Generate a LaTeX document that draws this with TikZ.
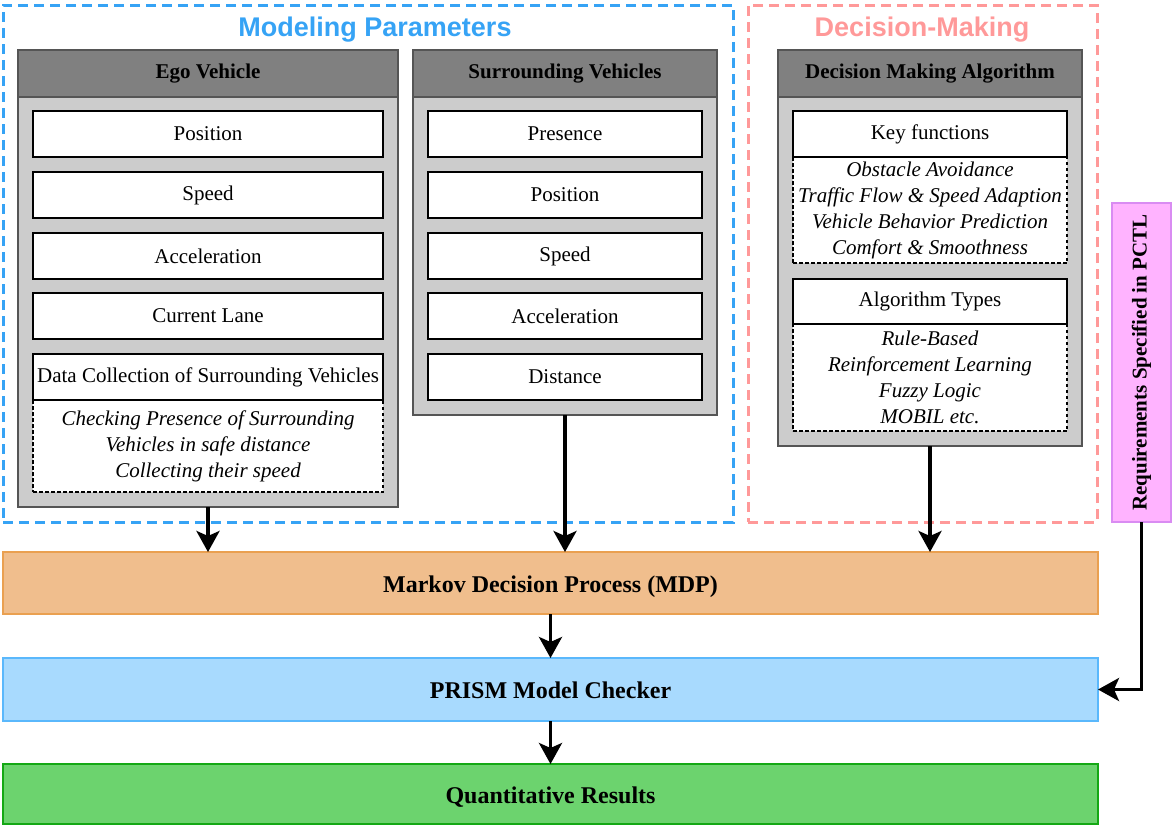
\documentclass[tikz,border=0pt]{standalone}
\usepackage{fontspec}
\setmainfont{Liberation Serif}
\setsansfont{Liberation Sans}
\usetikzlibrary{arrows.meta}
\definecolor{hdr}{HTML}{808080}
\definecolor{bodyg}{HTML}{CCCCCC}
\definecolor{edgeg}{HTML}{555555}
\definecolor{mpblue}{HTML}{36A3F5}
\definecolor{dmpink}{HTML}{FF9999}
\definecolor{mdpfill}{HTML}{F0BE8D}
\definecolor{mdpedge}{HTML}{EAA050}
\definecolor{prfill}{HTML}{A8DAFE}
\definecolor{predge}{HTML}{5AB8FC}
\definecolor{qfill}{HTML}{6CD36E}
\definecolor{qedge}{HTML}{14A814}
\definecolor{reqfill}{HTML}{FFB3FF}
\definecolor{reqedge}{HTML}{D98CF2}
\begin{document}
\begin{tikzpicture}[x=1pt,y=-1pt,
  base/.style={inner sep=0pt, outer sep=0pt, anchor=north west, align=center, font=\fontsize{21}{26}\selectfont},
  group/.style={base, dash pattern=on 10pt off 6pt, line width=3pt},
  grouptitle/.style={inner sep=0pt, anchor=base, font=\sffamily\bfseries\fontsize{27}{32}\selectfont},
  hdrbox/.style={base, draw=edgeg, fill=hdr, line width=1.5pt, font=\fontsize{21}{26}\selectfont\bfseries},
  bodybox/.style={base, draw=edgeg, fill=bodyg, line width=1.5pt},
  item/.style={base, draw=black, fill=white, line width=1.5pt},
  detail/.style={base, draw=black, fill=white, line width=1.2pt, dash pattern=on 3.5pt off 2.5pt, font=\fontsize{21}{26}\selectfont\itshape},
  bar/.style={base, line width=2.5pt, text height=18pt, text depth=0pt, font=\fontsize{24}{28}\selectfont\bfseries},
  arr/.style={line width=3.5pt, -{Stealth[length=21pt,width=23pt,inset=5pt]}}
]
\useasboundingbox (0,0) rectangle (1172,825);

% group frames
\node[group, draw=mpblue, minimum width=730, minimum height=517] (gmp) at (3,5) {};
\node[group, draw=dmpink, minimum width=349, minimum height=517] (gdm) at (748,5) {};
\node[grouptitle, text=mpblue] (tmp) at (375,36) {Modeling Parameters};
\node[grouptitle, text=dmpink] (tdm) at (922,36) {Decision-Making};

% Ego vehicle
\node[bodybox, minimum width=380, minimum height=457] (egob) at (18,50) {};
\node[hdrbox, minimum width=380, minimum height=47] (egoh) at (18,50) {Ego Vehicle};
\node[item, minimum width=350, minimum height=46] (e1) at (33,111) {Position};
\node[item, minimum width=350, minimum height=46] (e2) at (33,172) {Speed};
\node[item, minimum width=350, minimum height=46] (e3) at (33,233) {Acceleration};
\node[item, minimum width=350, minimum height=46] (e4) at (33,293) {Current Lane};
\node[detail, minimum width=350, minimum height=92] (e5d) at (33,400) {Checking Presence of Surrounding\\Vehicles in safe distance\\Collecting their speed};
\node[item, minimum width=350, minimum height=46] (e5) at (33,354) {Data Collection of Surrounding Vehicles};

% Surrounding vehicles
\node[bodybox, minimum width=304, minimum height=365] (surb) at (413,50) {};
\node[hdrbox, minimum width=304, minimum height=47] (surh) at (413,50) {Surrounding Vehicles};
\node[item, minimum width=274, minimum height=46] (s1) at (428,111) {Presence};
\node[item, minimum width=274, minimum height=46] (s2) at (428,172) {Position};
\node[item, minimum width=274, minimum height=46] (s3) at (428,233) {Speed};
\node[item, minimum width=274, minimum height=46] (s4) at (428,293) {Acceleration};
\node[item, minimum width=274, minimum height=46] (s5) at (428,354) {Distance};

% Decision making algorithm
\node[bodybox, minimum width=304, minimum height=396] (dmb) at (778,50) {};
\node[hdrbox, minimum width=304, minimum height=47] (dmh) at (778,50) {Decision Making Algorithm};
\node[detail, minimum width=274, minimum height=106] (d1d) at (793,157) {Obstacle Avoidance\\Traffic Flow \& Speed Adaption\\Vehicle Behavior Prediction\\Comfort \& Smoothness};
\node[item, minimum width=274, minimum height=46] (d1) at (793,111) {Key functions};
\node[detail, minimum width=274, minimum height=107] (d2d) at (793,324) {Rule-Based\\Reinforcement Learning\\Fuzzy Logic\\MOBIL etc.};
\node[item, minimum width=274, minimum height=45] (d2) at (793,279) {Algorithm Types};

% requirements
\node[base, draw=reqedge, fill=reqfill, line width=1.5pt, minimum width=59, minimum height=319] (req) at (1112,203) {};
\node[rotate=90, inner sep=0pt, font=\fontsize{21}{26}\selectfont\bfseries] (reqt) at (req.center) {Requirements Specified in PCTL};

% bars
\node[bar, draw=mdpedge, fill=mdpfill, minimum width=1095, minimum height=62] (mdp) at (3,552) {Markov Decision Process (MDP)};
\node[bar, draw=predge, fill=prfill, minimum width=1095, minimum height=63] (prism) at (3,658) {PRISM Model Checker};
\node[bar, draw=qedge, fill=qfill, minimum width=1095, minimum height=60] (quant) at (3,764) {Quantitative Results};

% arrows
\draw[arr] (egob.south) -- (egob.south |- mdp.north);
\draw[arr] (surb.south) -- (surb.south |- mdp.north);
\draw[arr] (dmb.south) -- (dmb.south |- mdp.north);
\draw[arr] (mdp.south) -- (prism.north);
\draw[arr] (prism.south) -- (quant.north);
\draw[arr] (req.south) |- (prism.east);
\end{tikzpicture}
\end{document}
